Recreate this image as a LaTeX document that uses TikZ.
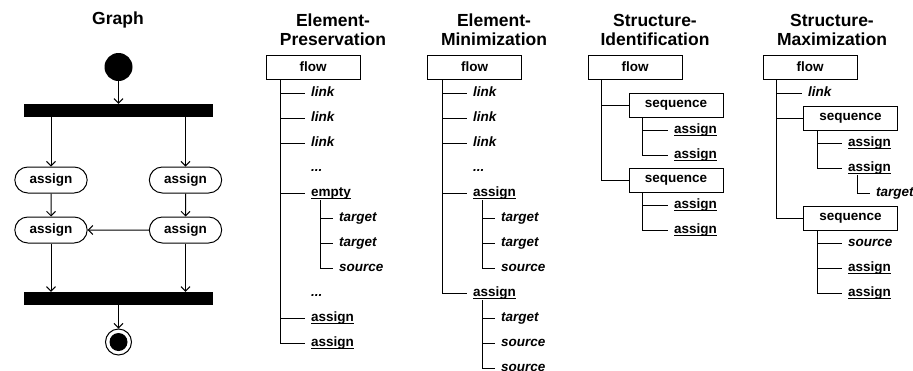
\documentclass[tikz,border=0pt]{standalone}
\usepackage{fontspec}
\setmainfont{Liberation Sans}
\usetikzlibrary{arrows.meta,shapes.misc}

\newcommand{\titlefont}{\fontsize{17.5}{19}\selectfont\bfseries}
\newcommand{\bodyfont}{\fontsize{13.5}{16}\selectfont\bfseries}
\newcommand{\under}[1]{\setbox0\hbox{#1}\rlap{\vrule width\wd0 height -2pt depth 3.2pt}\box0}

\tikzset{
  title/.style={font=\titlefont, align=center},
  box/.style={draw, line width=1pt, minimum width=94, minimum height=24, inner sep=0pt, font=\bodyfont},
  leaf/.style={anchor=west, inner xsep=6pt, inner ysep=1pt, text height=9pt, text depth=3pt, font=\bodyfont\itshape},
  act/.style={leaf, font=\bodyfont},
  edge/.style={line width=1pt},
  bar/.style={fill, minimum width=189, minimum height=13, inner sep=0pt},
  action/.style={rounded rectangle, draw, line width=1pt, minimum width=79, minimum height=26, font=\bodyfont},
  flowarrow/.style={line width=1pt, -{Straight Barb[length=4.5pt,width=9pt]}},
  initstate/.style={circle, fill, minimum size=28, inner sep=0pt},
  finalstate/.style={circle, draw, line width=1pt, minimum size=26, inner sep=0pt}
}

\begin{document}
\begin{tikzpicture}[x=1pt,y=-1pt]
  \useasboundingbox (0,0) rectangle (913,370);

  % Titles
  \node[title] (tgraph) at (118,20) {Graph};
  \node[title] (tep) at (333,29.5) {Element-\\Preservation};
  \node[title] (tem) at (494,29.5) {Element-\\Minimization};
  \node[title] (tsi) at (655,29.5) {Structure-\\Identification};
  \node[title] (tsm) at (832,29.5) {Structure-\\Maximization};

  % Graph
  \node[initstate] (start) at (118.5,67) {};
  \node[bar] (fork) at (118.5,110.5) {};
  \node[action] (asgna) at (51,180) {assign};
  \node[action] (asgnb) at (185.5,180) {assign};
  \node[action] (asgnc) at (51,230) {assign};
  \node[action] (asgnd) at (185.5,230) {assign};
  \node[bar] (join) at (118.5,298.5) {};
  \node[finalstate] (final) at (118.5,342) {};
  \fill (final.center) circle (9);
  \draw[flowarrow] (start) -- (fork);
  \draw[flowarrow] (fork.south -| asgna) -- (asgna.north);
  \draw[flowarrow] (fork.south -| asgnb) -- (asgnb.north);
  \draw[flowarrow] (asgna) -- (asgnc);
  \draw[flowarrow] (asgnb) -- (asgnd);
  \draw[flowarrow] (asgnd) -- (asgnc);
  \draw[flowarrow] (asgnc.south) -- (join.north -| asgnc);
  \draw[flowarrow] (asgnd.south) -- (join.north -| asgnd);
  \draw[flowarrow] (join) -- (final);

  % Element-Preservation
  \node[box] (epflow) at (313,67) {flow};
  \node[leaf] (eplinka) at (305,93) {link};
  \node[leaf] (eplinkb) at (305,118) {link};
  \node[leaf] (eplinkc) at (305,143) {link};
  \node[leaf] (epdotsa) at (305,168) {...};
  \node[act] (epempty) at (305,193) {\under{empty}};
  \node[leaf] (eptargeta) at (333,218) {target};
  \node[leaf] (eptargetb) at (333,243) {target};
  \node[leaf] (epsource) at (333,268) {source};
  \node[leaf] (epdotsb) at (305,293) {...};
  \node[act] (epassigna) at (305,318) {\under{assign}};
  \node[act] (epassignb) at (305,343) {\under{assign}};
  \foreach \n in {eplinka,eplinkb,eplinkc,epempty,epassigna,epassignb}
    \draw[edge] ([xshift=15]epflow.south west) |- (\n.west);
  \foreach \n in {eptargeta,eptargetb,epsource}
    \draw[edge] ([xshift=15]epempty.south west) |- (\n.west);

  % Element-Minimization
  \node[box] (emflow) at (474.5,67) {flow};
  \node[leaf] (emlinka) at (467,93) {link};
  \node[leaf] (emlinkb) at (467,118) {link};
  \node[leaf] (emlinkc) at (467,143) {link};
  \node[leaf] (emdots) at (467,168) {...};
  \node[act] (emassigna) at (467,193) {\under{assign}};
  \node[leaf] (emtargeta) at (495,218) {target};
  \node[leaf] (emtargetb) at (495,243) {target};
  \node[leaf] (emsourcea) at (495,268) {source};
  \node[act] (emassignb) at (467,293) {\under{assign}};
  \node[leaf] (emtargetc) at (495,318) {target};
  \node[leaf] (emsourceb) at (495,343) {source};
  \node[leaf] (emsourcec) at (495,368) {source};
  \foreach \n in {emlinka,emlinkb,emlinkc,emassigna,emassignb}
    \draw[edge] ([xshift=15]emflow.south west) |- (\n.west);
  \foreach \n in {emtargeta,emtargetb,emsourcea}
    \draw[edge] ([xshift=15]emassigna.south west) |- (\n.west);
  \foreach \n in {emtargetc,emsourceb,emsourcec}
    \draw[edge] ([xshift=15]emassignb.south west) |- (\n.west);

  % Structure-Identification
  \node[box] (siflow) at (635,67) {flow};
  \node[box] (siseqa) at (676,105) {sequence};
  \node[act] (siassigna) at (668,130) {\under{assign}};
  \node[act] (siassignb) at (668,155) {\under{assign}};
  \node[box] (siseqb) at (676,180) {sequence};
  \node[act] (siassignc) at (668,205) {\under{assign}};
  \node[act] (siassignd) at (668,230) {\under{assign}};
  \foreach \n in {siseqa,siseqb}
    \draw[edge] ([xshift=14]siflow.south west) |- (\n.west);
  \foreach \n in {siassigna,siassignb}
    \draw[edge] ([xshift=14]siseqa.south west) |- (\n.west);
  \foreach \n in {siassignc,siassignd}
    \draw[edge] ([xshift=14]siseqb.south west) |- (\n.west);

  % Structure-Maximization
  \node[box] (smflow) at (810,67) {flow};
  \node[leaf] (smlink) at (802,93) {link};
  \node[box] (smseqa) at (850.5,118) {sequence};
  \node[act] (smassigna) at (842,143) {\under{assign}};
  \node[act] (smassignb) at (842,168) {\under{assign}};
  \node[leaf] (smtarget) at (870,193) {target};
  \node[box] (smseqb) at (850.5,218) {sequence};
  \node[leaf] (smsource) at (842,243) {source};
  \node[act] (smassignc) at (842,268) {\under{assign}};
  \node[act] (smassignd) at (842,293) {\under{assign}};
  \foreach \n in {smlink,smseqa,smseqb}
    \draw[edge] ([xshift=14]smflow.south west) |- (\n.west);
  \foreach \n in {smassigna,smassignb}
    \draw[edge] ([xshift=14]smseqa.south west) |- (\n.west);
  \draw[edge] ([xshift=15]smassignb.south west) |- (smtarget.west);
  \foreach \n in {smsource,smassignc,smassignd}
    \draw[edge] ([xshift=14]smseqb.south west) |- (\n.west);

\end{tikzpicture}
\end{document}
